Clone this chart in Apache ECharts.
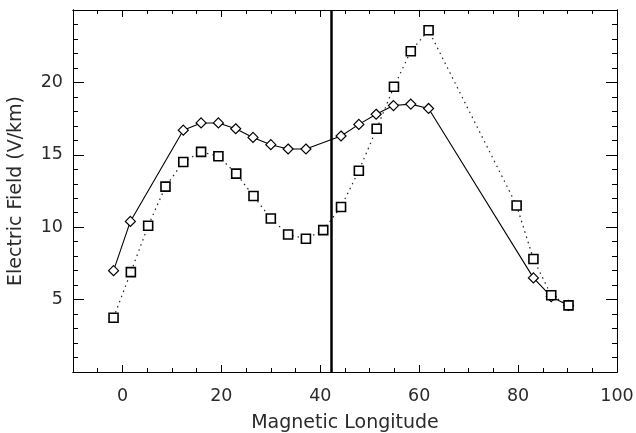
<!DOCTYPE html>
<html><head><meta charset="utf-8">
<script src="https://cdn.jsdelivr.net/npm/echarts@6/dist/echarts.min.js"></script>
<style>html,body{margin:0;padding:0;background:#fff}#c{width:636px;height:433px}</style>
</head><body><div id="c"></div>
<script>
const diamondX = [-1.8, 1.6, 12.3, 15.9, 19.4, 22.9, 26.4, 30.0, 33.5, 37.1, 44.2, 47.8, 51.3, 54.8, 58.3, 61.9, 83.1, 86.7, 90.2];
const diamondY = [7.0, 10.4, 16.7, 17.2, 17.2, 16.8, 16.2, 15.7, 15.4, 15.4, 16.3, 17.1, 17.8, 18.4, 18.5, 18.2, 6.5, 5.2, 4.6];
const squareX = [-1.8, 1.7, 5.2, 8.7, 12.3, 15.9, 19.4, 23.0, 26.5, 30.0, 33.5, 37.1, 40.6, 44.2, 47.8, 51.4, 54.9, 58.3, 61.9, 79.7, 83.1, 86.7, 90.2];
const squareY = [3.75, 6.9, 10.1, 12.8, 14.5, 15.2, 14.9, 13.7, 12.15, 10.6, 9.5, 9.2, 9.8, 11.4, 13.9, 16.8, 19.7, 22.15, 23.6, 11.5, 7.8, 5.3, 4.6];
const xTickLabels = [0, 20, 40, 60, 80, 100];
const yTickLabels = [5, 10, 15, 20];
const verticalLineX = 42.2;

const FONT = 'DejaVu Sans';
const TXT = '#2a2a2a';
const chart = echarts.init(document.getElementById('c'), null, {renderer: 'canvas'});
const axisLine = {show: true, onZero: false, lineStyle: {color: '#000', width: 1}};
const grid = {left: 73, right: 19, top: 10, bottom: 61, containLabel: false, outerBoundsMode: 'none'};

function xAxisBase(extra) {
  return Object.assign({type: 'value', min: -10, max: 100, splitLine: {show: false}, axisLine: axisLine}, extra);
}
function yAxisBase(extra) {
  return Object.assign({type: 'value', min: 0, max: 25, splitLine: {show: false}, axisLine: axisLine}, extra);
}

chart.setOption({
  animation: false,
  backgroundColor: '#fff',
  grid: grid,
  xAxis: [
    xAxisBase({position: 'bottom', interval: 10,
      name: 'Magnetic Longitude', nameLocation: 'middle', nameGap: 42,
      nameTextStyle: {fontFamily: FONT, fontSize: 19, color: TXT},
      axisTick: {show: true, inside: true, length: 7, customValues: xTickLabels, lineStyle: {color: '#000'}},
      axisLabel: {show: true, customValues: xTickLabels, margin: 15, fontFamily: FONT, fontSize: 17.5, color: TXT}}),
    xAxisBase({position: 'bottom', interval: 5, axisTick: {show: true, inside: true, length: 4, lineStyle: {color: '#000'}}, axisLabel: {show: false}}),
    xAxisBase({position: 'top', interval: 10, axisTick: {show: true, inside: true, length: 7, customValues: xTickLabels, lineStyle: {color: '#000'}}, axisLabel: {show: false}}),
    xAxisBase({position: 'top', interval: 5, axisTick: {show: true, inside: true, length: 4, lineStyle: {color: '#000'}}, axisLabel: {show: false}})
  ],
  yAxis: [
    yAxisBase({position: 'left', interval: 5,
      name: 'Electric Field (V/km)', nameLocation: 'middle', nameGap: 47,
      nameTextStyle: {fontFamily: FONT, fontSize: 19, color: TXT},
      axisTick: {show: true, inside: true, length: 11, lineStyle: {color: '#000'}},
      axisLabel: {show: true, margin: 10, fontFamily: FONT, fontSize: 17.5, color: TXT,
        formatter: v => (yTickLabels.indexOf(v) >= 0 ? String(v) : '')}}),
    yAxisBase({position: 'left', interval: 1, axisTick: {show: true, inside: true, length: 5, lineStyle: {color: '#000'}}, axisLabel: {show: false}}),
    yAxisBase({position: 'right', interval: 5, axisTick: {show: true, inside: true, length: 11, lineStyle: {color: '#000'}}, axisLabel: {show: false}}),
    yAxisBase({position: 'right', interval: 1, axisTick: {show: true, inside: true, length: 5, lineStyle: {color: '#000'}}, axisLabel: {show: false}})
  ],
  series: [
    {
      type: 'line', xAxisIndex: 0, yAxisIndex: 0,
      data: diamondX.map((x, i) => [x, diamondY[i]]),
      symbol: 'diamond', symbolSize: 10,
      lineStyle: {color: '#000', width: 1.1},
      itemStyle: {color: '#fff', borderColor: '#000', borderWidth: 1.2},
      z: 3,
      markLine: {
        silent: true, symbol: ['none', 'none'], label: {show: false},
        lineStyle: {color: '#000', width: 2.5, type: 'solid'},
        data: [{xAxis: verticalLineX}]
      }
    },
    {
      type: 'line', xAxisIndex: 0, yAxisIndex: 0,
      data: squareX.map((x, i) => [x, squareY[i]]),
      symbol: 'rect', symbolSize: 9,
      lineStyle: {color: '#222', width: 1.2, type: [1.5, 4]},
      itemStyle: {color: '#fff', borderColor: '#000', borderWidth: 1.6},
      z: 4
    }
  ]
});
</script></body></html>
